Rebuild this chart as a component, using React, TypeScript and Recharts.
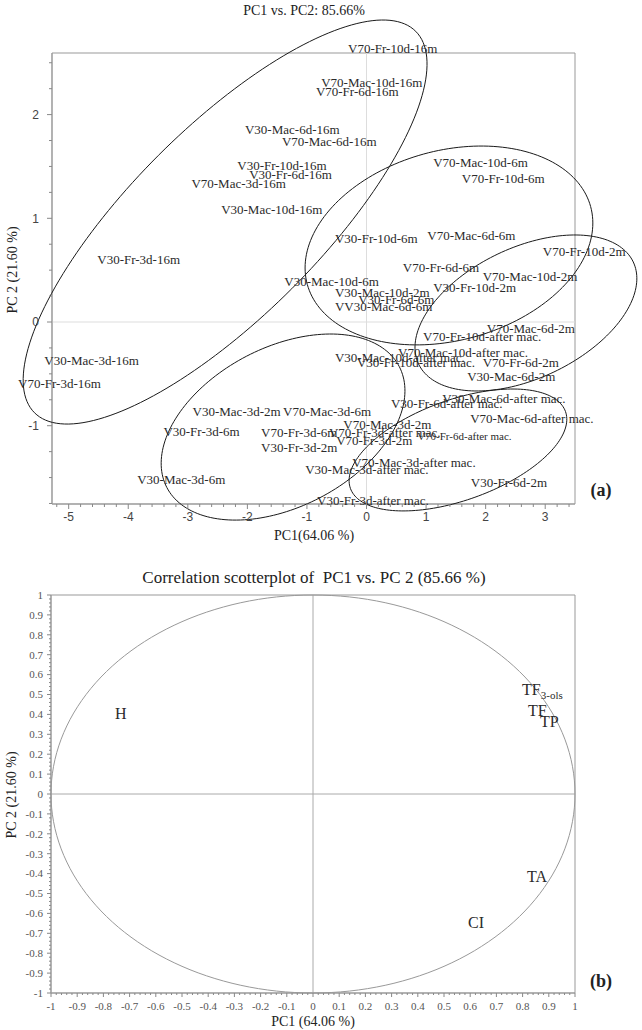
import React from "react";
import { ScatterChart, Scatter, XAxis, YAxis, ReferenceLine, ReferenceArea } from "recharts";

// score plot (a): label anchor = start of the text, on its baseline
const scores16m = [
  { name: "V70-Fr-10d-16m", pc1: -0.31, pc2: 2.59 },
  { name: "V70-Mac-10d-16m", pc1: -0.76, pc2: 2.27 },
  { name: "V70-Fr-6d-16m", pc1: -0.85, pc2: 2.18 },
  { name: "V30-Mac-6d-16m", pc1: -2.04, pc2: 1.81 },
  { name: "V70-Mac-6d-16m", pc1: -1.42, pc2: 1.7 },
  { name: "V30-Fr-10d-16m", pc1: -2.17, pc2: 1.47 },
  { name: "V30-Fr-6d-16m", pc1: -1.97, pc2: 1.38 },
  { name: "V70-Mac-3d-16m", pc1: -2.94, pc2: 1.29 },
  { name: "V30-Mac-10d-16m", pc1: -2.44, pc2: 1.04 },
  { name: "V30-Fr-3d-16m", pc1: -4.52, pc2: 0.56 },
  { name: "V30-Mac-3d-16m", pc1: -5.41, pc2: -0.41 },
  { name: "V70-Fr-3d-16m", pc1: -5.85, pc2: -0.64 },
];

const scores6m = [
  { name: "V70-Mac-10d-6m", pc1: 1.12, pc2: 1.49 },
  { name: "V70-Fr-10d-6m", pc1: 1.6, pc2: 1.34 },
  { name: "V30-Fr-10d-6m", pc1: -0.53, pc2: 0.76 },
  { name: "V70-Mac-6d-6m", pc1: 1.02, pc2: 0.79 },
  { name: "V70-Fr-6d-6m", pc1: 0.61, pc2: 0.48 },
  { name: "V30-Mac-10d-6m", pc1: -1.38, pc2: 0.35 },
  { name: "V30-Fr-6d-6m", pc1: -0.14, pc2: 0.17 },
  { name: "VV30-Mac-6d-6m", pc1: -0.53, pc2: 0.11 },
  { name: "V30-Mac-3d-6m", pc1: -3.85, pc2: -1.56 },
  { name: "V30-Fr-3d-6m", pc1: -3.41, pc2: -1.1 },
  { name: "V70-Fr-3d-6m", pc1: -1.77, pc2: -1.11 },
  { name: "V70-Mac-3d-6m", pc1: -1.4, pc2: -0.91 },
];

const scores2m = [
  { name: "V70-Fr-10d-2m", pc1: 2.96, pc2: 0.64 },
  { name: "V70-Mac-10d-2m", pc1: 1.95, pc2: 0.4 },
  { name: "V30-Fr-10d-2m", pc1: 1.12, pc2: 0.29 },
  { name: "V30-Mac-10d-2m", pc1: -0.53, pc2: 0.24 },
  { name: "V70-Mac-6d-2m", pc1: 2.02, pc2: -0.11 },
  { name: "V70-Fr-6d-2m", pc1: 1.95, pc2: -0.43 },
  { name: "V30-Mac-6d-2m", pc1: 1.69, pc2: -0.57 },
  { name: "V30-Fr-6d-2m", pc1: 1.75, pc2: -1.59 },
  { name: "V30-Mac-3d-2m", pc1: -2.92, pc2: -0.91 },
  { name: "V70-Mac-3d-2m", pc1: -0.39, pc2: -1.03 },
  { name: "V70-Fr-3d-2m", pc1: -0.51, pc2: -1.19 },
  { name: "V30-Fr-3d-2m", pc1: -1.77, pc2: -1.25 },
];

const scoresAfterMac = [
  { name: "V70-Fr-10d-after mac.", pc1: 0.95, pc2: -0.18 },
  { name: "V70-Mac-10d-after mac.", pc1: 0.53, pc2: -0.34 },
  { name: "V30-Mac-10d-after mac.", pc1: -0.53, pc2: -0.39 },
  { name: "V30-Fr-10d-after mac.", pc1: -0.16, pc2: -0.43 },
  { name: "V30-Mac-6d-after mac.", pc1: 1.27, pc2: -0.78 },
  { name: "V30-Fr-6d-after mac.", pc1: 0.41, pc2: -0.83 },
  { name: "V70-Mac-6d-after mac.", pc1: 1.74, pc2: -0.97 },
  { name: "V70-Fr-3d-after mac.", pc1: -0.63, pc2: -1.11 },
  { name: "V70-Mac-3d-after mac.", pc1: -0.24, pc2: -1.4 },
  { name: "V30-Mac-3d-after mac.", pc1: -1.03, pc2: -1.47 },
  { name: "V30-Fr-3d-after mac.", pc1: -0.83, pc2: -1.76 },
];

// printed smaller in the original figure
const scoresAfterMacSmall = [{ name: "V70-Fr-6d-after mac.", pc1: 0.85, pc2: -1.14 }];

// group ellipses: centre and two conjugate semi-axes, in PC units
const groupEllipses = [
  { group: "16m", cx: -2.374, cy: 0.964, ax: 3.2, ay: 1.839, bx: -1.119, by: 0.643 },
  { group: "6m", cx: 1.384, cy: 0.738, ax: 2.378, ay: 0.376, bx: -0.423, by: 0.882 },
  { group: "2m", cx: 2.676, cy: 0.087, ax: 1.802, ay: 0.492, bx: -0.47, by: 0.569 },
  { group: "3d", cx: -1.401, cy: -1.013, ax: 1.951, ay: 0.583, bx: -0.617, by: 0.682 },
  { group: "after mac.", cx: 1.535, cy: -1.234, ax: 1.805, ay: 0.371, bx: -0.285, by: 0.456 },
];

const scoreXTicks = [-5, -4, -3, -2, -1, 0, 1, 2, 3];
const scoreYTicks = [-1, 0, 1, 2];
const scoreXDomain = [-5.28, 3.5];
const scoreYDomain = [-1.755, 2.594];

// correlation loadings (b)
const loadings = [
  { name: "H", sub: "", pc1: -0.756, pc2: 0.379 },
  { name: "TF", sub: "3-ols", pc1: 0.798, pc2: 0.5 },
  { name: "TF", sub: "", pc1: 0.821, pc2: 0.394 },
  { name: "TP", sub: "", pc1: 0.866, pc2: 0.339 },
  { name: "TA", sub: "", pc1: 0.817, pc2: -0.44 },
  { name: "CI", sub: "", pc1: 0.592, pc2: -0.671 },
];

const unitCircle = [{ cx: 0, cy: 0, ax: 1, ay: 0, bx: 0, by: 1 }];

const loadTicks = [-1, -0.9, -0.8, -0.7, -0.6, -0.5, -0.4, -0.3, -0.2, -0.1, 0, 0.1, 0.2, 0.3, 0.4, 0.5, 0.6, 0.7, 0.8, 0.9, 1];

const SERIF = "'Liberation Serif', 'DejaVu Serif', serif";
const SANS = "'Liberation Sans', Arial, sans-serif";

function outline(e: any) {
  const n = 180;
  return Array.from({ length: n + 1 }, (_, i) => {
    const t = (i / n) * Math.PI * 2;
    return {
      pc1: e.cx + e.ax * Math.cos(t) + e.bx * Math.sin(t),
      pc2: e.cy + e.ay * Math.cos(t) + e.by * Math.sin(t),
    };
  });
}

function withMinor(majors: number[], from: number, to: number, step: number) {
  const out = [...majors];
  for (let v = from; v <= to + 1e-9; v += step) {
    const r = Math.round(v * 1000) / 1000;
    if (!majors.some((m) => Math.abs(m - r) < 1e-6)) out.push(r);
  }
  return out.sort((a, b) => a - b);
}

function AxisTick(props: any) {
  const { x, y, payload, side, majors, majorLen, minorLen, gap, font, size, color } = props;
  const v = payload.value;
  const major = majors.some((m: number) => Math.abs(m - v) < 1e-6);
  const len = major ? majorLen : minorLen;
  if (side === "left") {
    return (
      <g>
        <line x1={x} x2={x - len} y1={y} y2={y} stroke="#888" />
        {major && (
          <text x={x - gap} y={y} dy="0.35em" textAnchor="end" fontFamily={font} fontSize={size} fill={color}>
            {String(v)}
          </text>
        )}
      </g>
    );
  }
  return (
    <g>
      <line x1={x} x2={x} y1={y} y2={y + len} stroke="#888" />
      {major && (
        <text x={x} y={y + gap} dy="0.71em" textAnchor="middle" fontFamily={font} fontSize={size} fill={color}>
          {String(v)}
        </text>
      )}
    </g>
  );
}

const Blank = () => <g />;

const ScoreText = (p: any) => (
  <text x={p.cx} y={p.cy} fontFamily={SERIF} fontSize={13} fill="#2a2a2a">
    {p.payload.name}
  </text>
);

const SmallScoreText = (p: any) => (
  <text x={p.cx} y={p.cy} fontFamily={SERIF} fontSize={11} fill="#2a2a2a">
    {p.payload.name}
  </text>
);

const LoadingText = (p: any) => (
  <text x={p.cx} y={p.cy} fontFamily={SERIF} fontSize={16} fill="#2a2a2a">
    {p.payload.name}
    {p.payload.sub && (
      <tspan fontSize={11} dy={4}>
        {p.payload.sub}
      </tspan>
    )}
  </text>
);

function Caption({ x, y, size, children, rotate, bold }: any) {
  return (
    <div
      style={{
        position: "absolute",
        left: x,
        top: y,
        transform: `translate(-50%, -50%)${rotate ? " rotate(-90deg)" : ""}`,
        fontFamily: SERIF,
        fontSize: size,
        fontWeight: bold ? "bold" : "normal",
        color: "#222",
        whiteSpace: "pre",
        lineHeight: 1,
      }}
    >
      {children}
    </div>
  );
}

export default function App() {
  const allScores = [...scores16m, ...scores6m, ...scores2m, ...scoresAfterMac];
  const sxTicks = withMinor(scoreXTicks, -5.2, 3.4, 0.2);
  const syTicks = withMinor(scoreYTicks, -1.75, 2.5, 0.25);
  const lTicks = withMinor(loadTicks, -1, 1, 0.02);

  return (
    <div style={{ position: "absolute", left: 0, top: 0, width: 642, height: 1030, background: "#fff" }}>
      <style>{".pca [clip-path]{clip-path:none !important}"}</style>

      {/* (a) scores */}
      <div className="pca" style={{ position: "absolute", left: 0, top: 0 }}>
        <ScatterChart width={642} height={545} margin={{ top: 53, right: 67, bottom: 11, left: 12 }}>
          <XAxis
            type="number"
            dataKey="pc1"
            domain={scoreXDomain}
            allowDataOverflow
            ticks={sxTicks}
            interval={0}
            height={30}
            tickSize={0}
            tickMargin={0}
            tickLine={false}
            axisLine={{ stroke: "#999" }}
            tick={<AxisTick side="bottom" majors={scoreXTicks} majorLen={5} minorLen={3} gap={8} font={SANS} size={12} color="#444" />}
          />
          <YAxis
            type="number"
            dataKey="pc2"
            domain={scoreYDomain}
            allowDataOverflow
            ticks={syTicks}
            interval={0}
            width={40}
            tickSize={0}
            tickMargin={0}
            tickLine={false}
            axisLine={{ stroke: "#999" }}
            tick={<AxisTick side="left" majors={scoreYTicks} majorLen={5} minorLen={3} gap={13} font={SANS} size={12} color="#444" />}
          />
          <ReferenceLine x={0} stroke="#ddd" />
          <ReferenceLine y={0} stroke="#ddd" />
          <ReferenceArea
            x1={scoreXDomain[0]}
            x2={scoreXDomain[1]}
            y1={scoreYDomain[0]}
            y2={scoreYDomain[1]}
            fill="none"
            fillOpacity={0}
            stroke="#999"
          />
          {groupEllipses.map((e) => (
            <Scatter
              key={e.group}
              data={outline(e)}
              line={{ stroke: "#1a1a1a", strokeWidth: 1 }}
              lineType="joint"
              shape={<Blank />}
              isAnimationActive={false}
            />
          ))}
          <Scatter data={allScores} shape={<ScoreText />} isAnimationActive={false} />
          <Scatter data={scoresAfterMacSmall} shape={<SmallScoreText />} isAnimationActive={false} />
        </ScatterChart>
      </div>

      <Caption x={304} y={11} size={14}>PC1 vs. PC2: 85.66%</Caption>
      <Caption x={314} y={536} size={14}>PC1(64.06 %)</Caption>
      <Caption x={13} y={270} size={14} rotate>PC 2 (21.60 %)</Caption>
      <Caption x={601} y={490} size={18} bold>(a)</Caption>

      {/* (b) correlation loadings */}
      <div className="pca" style={{ position: "absolute", left: 0, top: 545 }}>
        <ScatterChart width={642} height={485} margin={{ top: 50, right: 67, bottom: 17, left: 11 }}>
          <XAxis
            type="number"
            dataKey="pc1"
            domain={[-1, 1]}
            allowDataOverflow
            ticks={lTicks}
            interval={0}
            height={20}
            tickSize={0}
            tickMargin={0}
            tickLine={false}
            axisLine={{ stroke: "#999" }}
            tick={<AxisTick side="bottom" majors={loadTicks} majorLen={4} minorLen={2} gap={9} font={SERIF} size={11} color="#555" />}
          />
          <YAxis
            type="number"
            dataKey="pc2"
            domain={[-1, 1]}
            allowDataOverflow
            ticks={lTicks}
            interval={0}
            width={40}
            tickSize={0}
            tickMargin={0}
            tickLine={false}
            axisLine={{ stroke: "#999" }}
            tick={<AxisTick side="left" majors={loadTicks} majorLen={4} minorLen={2} gap={8} font={SERIF} size={11} color="#555" />}
          />
          <ReferenceLine x={0} stroke="#aaa" />
          <ReferenceLine y={0} stroke="#aaa" />
          <ReferenceArea x1={-1} x2={1} y1={-1} y2={1} fill="none" fillOpacity={0} stroke="#999" />
          {unitCircle.map((c, i) => (
            <Scatter
              key={i}
              data={outline(c)}
              line={{ stroke: "#999", strokeWidth: 1 }}
              lineType="joint"
              shape={<Blank />}
              isAnimationActive={false}
            />
          ))}
          <Scatter data={loadings} shape={<LoadingText />} isAnimationActive={false} />
        </ScatterChart>
      </div>

      <Caption x={314} y={577} size={17}>Correlation scotterplot of  PC1 vs. PC 2 (85.66 %)</Caption>
      <Caption x={313} y={1022} size={14}>PC1 (64.06 %)</Caption>
      <Caption x={12} y={795} size={14} rotate>PC 2 (21.60 %)</Caption>
      <Caption x={601} y={981} size={18} bold>(b)</Caption>
    </div>
  );
}
